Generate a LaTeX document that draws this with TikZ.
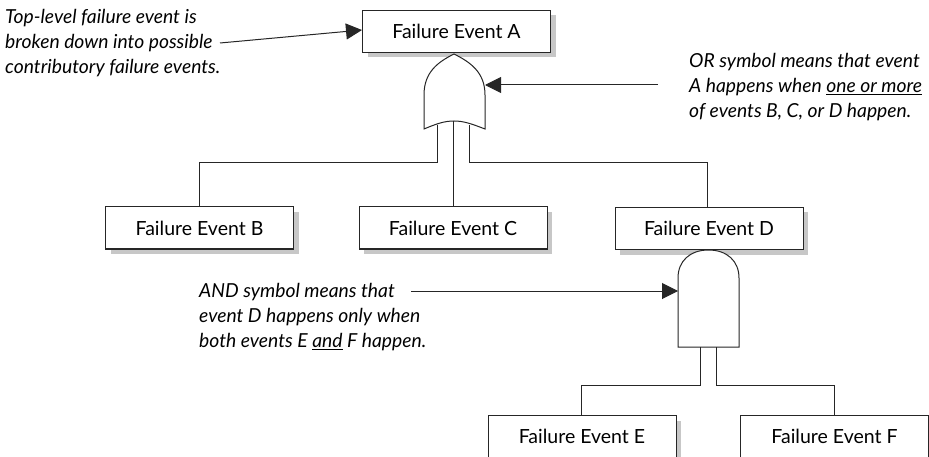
\documentclass[tikz,border=0pt]{standalone}
\usepackage{fontspec}
\setmainfont{Lato}
\usetikzlibrary{shadows,arrows.meta}

\tikzset{
  eventbox/.style={draw=black!85,fill=white,line width=1pt,minimum width=188pt,minimum height=42pt,
    inner sep=0pt,font=\fontsize{19.5}{22}\selectfont,
    drop shadow={shadow xshift=5pt,shadow yshift=-5pt,fill=black!22,opacity=1}},
  note/.style={anchor=north west,align=left,inner sep=0pt,font=\fontsize{19.3}{25}\selectfont\itshape},
  lead/.style={draw=black!85,line width=1pt},
  pointer/.style={draw=black!85,line width=1pt,-{Triangle[length=16pt,width=16pt]}},
  gate/.style={draw=black!85,fill=white,line width=1pt}
}

\begin{document}
\begin{tikzpicture}[x=1pt,y=-1pt]
        \useasboundingbox (0,0) rectangle (929,457);

        \begin{scope}[every node/.style={eventbox}]
          \node (A) at (456.5,31.5)  {Failure Event A};
          \node (B) at (199.5,228)   {Failure Event B};
          \node (C) at (453,228)     {Failure Event C};
          \node (D) at (709,228.5)   {Failure Event D};
          \node (E) at (582,436.5)   {Failure Event E};
          \node (F) at (834.5,436.5) {Failure Event F};
        \end{scope}

        % gates
        \draw[gate] (454,54) .. controls (470,62) and (485,72) .. (485,95) -- (485,129)
          .. controls (472,124) and (464,121) .. (454,121)
          .. controls (444,121) and (436,124) .. (424,129) -- (424,95)
          .. controls (424,72) and (438,62) .. (454,54) -- cycle;
        \draw[gate] (678,347) -- (678,278) .. controls (678,261) and (690,250) .. (708.5,250)
          .. controls (727,250) and (739,261) .. (739,278) -- (739,347) -- cycle;

        \coordinate (orleft)   at (437,125);
        \coordinate (ormid)    at (453,121);
        \coordinate (orright)  at (469,125);
        \coordinate (orinput)  at (485,85);
        \coordinate (andleft)  at (700,347);
        \coordinate (andright) at (716,347);
        \coordinate (andinput) at (678,291);

        \draw[lead] (orleft) |- (199,163) -- (B.north -| 199,0);
        \draw[lead] (ormid) -- (C.north -| ormid);
        \draw[lead] (orright) |- (707,163) -- (D.north -| 707,0);
        \draw[lead] (andleft) |- (581,385) -- (E.north -| 581,0);
        \draw[lead] (andright) |- (834.5,385) -- (F.north);

        \begin{scope}[every node/.style={note}]
          \node (topnote) at (5,9)    {Top-level failure event is\\broken down into possible\\contributory failure events.};
          \node (ornote)  at (689,53) {OR symbol means that event\\A happens when \underline{one or more}\\of events B, C, or D happen.};
          \node (andnote) at (199,283) {AND symbol means that\\event D happens only when\\both events E \underline{and} F happen.};
        \end{scope}

        \coordinate (toptail) at (220,43);
        \coordinate (ortail)  at (658,85);
        \coordinate (andtail) at (411,291);

        \draw[pointer] (toptail) -- (A.west |- 0,30);
        \draw[pointer] (ortail) -- (orinput);
        \draw[pointer] (andtail) -- (andinput);

\end{tikzpicture}
\end{document}
